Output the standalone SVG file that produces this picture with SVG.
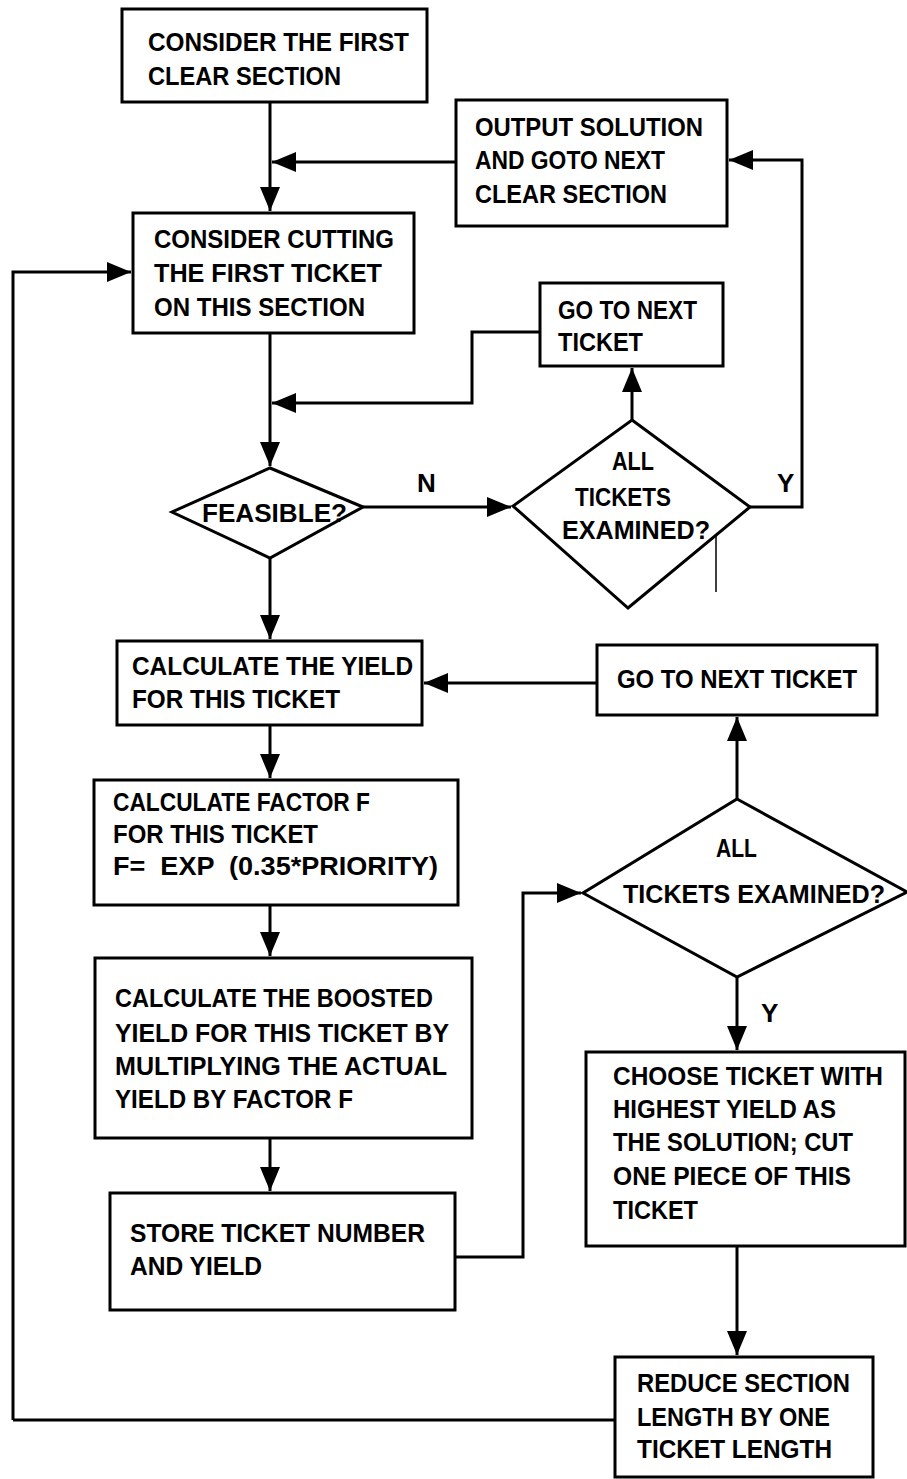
<svg xmlns="http://www.w3.org/2000/svg" width="907" height="1479" viewBox="0 0 907 1479">
<style>
.box{fill:#fff;stroke:#000;stroke-width:3}
.ln{fill:none;stroke:#000;stroke-width:3}
.t{font-family:"Liberation Sans",Arial,sans-serif;font-size:26px;font-weight:bold;fill:#000}
</style>
<defs>
<marker id="ah" markerUnits="userSpaceOnUse" markerWidth="26" markerHeight="22" refX="24" refY="10" orient="auto">
<path d="M0,0 L24,10 L0,20 z" fill="#000"/>
</marker>
</defs>
<rect width="907" height="1479" fill="#fff"/>
<g id="connectors">
<path class="ln" d="M270,102 V211" marker-end="url(#ah)"/>
<path class="ln" d="M456,162 H272" marker-end="url(#ah)"/>
<path class="ln" d="M750,507 H802 V160 H729" marker-end="url(#ah)"/>
<path class="ln" d="M13,1420 V272 H131" marker-end="url(#ah)"/>
<path class="ln" d="M270,333 V466" marker-end="url(#ah)"/>
<path class="ln" d="M540,332 H472 V403 H272" marker-end="url(#ah)"/>
<path class="ln" d="M632,420 V368" marker-end="url(#ah)"/>
<path class="ln" d="M363,507 H511" marker-end="url(#ah)"/>
<path class="ln" d="M270,558 V639" marker-end="url(#ah)"/>
<path class="ln" d="M597,683 H424" marker-end="url(#ah)"/>
<path class="ln" d="M737,799 V717" marker-end="url(#ah)"/>
<path class="ln" d="M270,725 V778" marker-end="url(#ah)"/>
<path class="ln" d="M270,905 V956" marker-end="url(#ah)"/>
<path class="ln" d="M270,1138 V1191" marker-end="url(#ah)"/>
<path class="ln" d="M455,1257 H523 V893 H581" marker-end="url(#ah)"/>
<path class="ln" d="M737,977 V1050" marker-end="url(#ah)"/>
<path class="ln" d="M737,1246 V1355" marker-end="url(#ah)"/>
<path class="ln" d="M615,1420 H13"/>
<path d="M716,520 V592" stroke="#000" stroke-width="1.5"/>
<text class="t" x="417" y="492">N</text>
<text class="t" x="777" y="492">Y</text>
<text class="t" x="761" y="1022">Y</text>
</g>
<g id="n1">
<rect class="box" x="122" y="9" width="305" height="93"/>
<text class="t" x="148" y="51" textLength="261" lengthAdjust="spacingAndGlyphs">CONSIDER THE FIRST</text>
<text class="t" x="148" y="85" textLength="193" lengthAdjust="spacingAndGlyphs">CLEAR SECTION</text>
</g>
<g id="n2">
<rect class="box" x="456" y="100" width="271" height="126"/>
<text class="t" x="475" y="136" textLength="228" lengthAdjust="spacingAndGlyphs">OUTPUT SOLUTION</text>
<text class="t" x="475" y="169" textLength="190" lengthAdjust="spacingAndGlyphs">AND GOTO NEXT</text>
<text class="t" x="475" y="203" textLength="192" lengthAdjust="spacingAndGlyphs">CLEAR SECTION</text>
</g>
<g id="n3">
<rect class="box" x="133" y="213" width="281" height="120"/>
<text class="t" x="154" y="248" textLength="240" lengthAdjust="spacingAndGlyphs">CONSIDER CUTTING</text>
<text class="t" x="154" y="282" textLength="228" lengthAdjust="spacingAndGlyphs">THE FIRST TICKET</text>
<text class="t" x="154" y="316" textLength="211" lengthAdjust="spacingAndGlyphs">ON THIS SECTION</text>
</g>
<g id="n4">
<rect class="box" x="540" y="283" width="183" height="83"/>
<text class="t" x="558" y="319" textLength="139" lengthAdjust="spacingAndGlyphs">GO TO NEXT</text>
<text class="t" x="558" y="351" textLength="85" lengthAdjust="spacingAndGlyphs">TICKET</text>
</g>
<g id="n5">
<polygon class="box" points="270,468 363,507 270,558 172,512"/>
<text class="t" x="202" y="522" textLength="145" lengthAdjust="spacingAndGlyphs">FEASIBLE?</text>
</g>
<g id="n6">
<polygon class="box" points="632,420 750,507 628,608 513,506"/>
<text class="t" x="612" y="470" textLength="42" lengthAdjust="spacingAndGlyphs">ALL</text>
<text class="t" x="575" y="506" textLength="96" lengthAdjust="spacingAndGlyphs">TICKETS</text>
<text class="t" x="562" y="539" textLength="148" lengthAdjust="spacingAndGlyphs">EXAMINED?</text>
</g>
<g id="n7">
<rect class="box" x="117" y="641" width="305" height="84"/>
<text class="t" x="132" y="675" textLength="281" lengthAdjust="spacingAndGlyphs">CALCULATE THE YIELD</text>
<text class="t" x="132" y="708" textLength="208" lengthAdjust="spacingAndGlyphs">FOR THIS TICKET</text>
</g>
<g id="n8">
<rect class="box" x="597" y="645" width="280" height="70"/>
<text class="t" x="617" y="688" textLength="240" lengthAdjust="spacingAndGlyphs">GO TO NEXT TICKET</text>
</g>
<g id="n9">
<rect class="box" x="94" y="780" width="364" height="125"/>
<text class="t" x="113" y="811" textLength="257" lengthAdjust="spacingAndGlyphs">CALCULATE FACTOR F</text>
<text class="t" x="113" y="843" textLength="205" lengthAdjust="spacingAndGlyphs">FOR THIS TICKET</text>
<text class="t" x="113" y="875" textLength="325" lengthAdjust="spacingAndGlyphs" xml:space="preserve">F=  EXP  (0.35*PRIORITY)</text>
</g>
<g id="n10">
<rect class="box" x="95" y="958" width="377" height="180"/>
<text class="t" x="115" y="1007" textLength="318" lengthAdjust="spacingAndGlyphs">CALCULATE THE BOOSTED</text>
<text class="t" x="115" y="1042" textLength="334" lengthAdjust="spacingAndGlyphs">YIELD FOR THIS TICKET BY</text>
<text class="t" x="115" y="1075" textLength="332" lengthAdjust="spacingAndGlyphs">MULTIPLYING THE ACTUAL</text>
<text class="t" x="115" y="1108" textLength="238" lengthAdjust="spacingAndGlyphs">YIELD BY FACTOR F</text>
</g>
<g id="n11">
<rect class="box" x="110" y="1193" width="345" height="117"/>
<text class="t" x="130" y="1242" textLength="295" lengthAdjust="spacingAndGlyphs">STORE TICKET NUMBER</text>
<text class="t" x="130" y="1275" textLength="132" lengthAdjust="spacingAndGlyphs">AND YIELD</text>
</g>
<g id="n12">
<polygon class="box" points="737,799 907,892 737,977 583,893"/>
<text class="t" x="716" y="857" textLength="41" lengthAdjust="spacingAndGlyphs">ALL</text>
<text class="t" x="623" y="903" textLength="262" lengthAdjust="spacingAndGlyphs">TICKETS EXAMINED?</text>
</g>
<g id="n13">
<rect class="box" x="586" y="1052" width="319" height="194"/>
<text class="t" x="613" y="1085" textLength="270" lengthAdjust="spacingAndGlyphs">CHOOSE TICKET WITH</text>
<text class="t" x="613" y="1118" textLength="223" lengthAdjust="spacingAndGlyphs">HIGHEST YIELD AS</text>
<text class="t" x="613" y="1151" textLength="240" lengthAdjust="spacingAndGlyphs">THE SOLUTION; CUT</text>
<text class="t" x="613" y="1185" textLength="238" lengthAdjust="spacingAndGlyphs">ONE PIECE OF THIS</text>
<text class="t" x="613" y="1219" textLength="85" lengthAdjust="spacingAndGlyphs">TICKET</text>
</g>
<g id="n14">
<rect class="box" x="615" y="1357" width="258" height="120"/>
<text class="t" x="637" y="1392" textLength="213" lengthAdjust="spacingAndGlyphs">REDUCE SECTION</text>
<text class="t" x="637" y="1426" textLength="193" lengthAdjust="spacingAndGlyphs">LENGTH BY ONE</text>
<text class="t" x="637" y="1458" textLength="195" lengthAdjust="spacingAndGlyphs">TICKET LENGTH</text>
</g>
</svg>
